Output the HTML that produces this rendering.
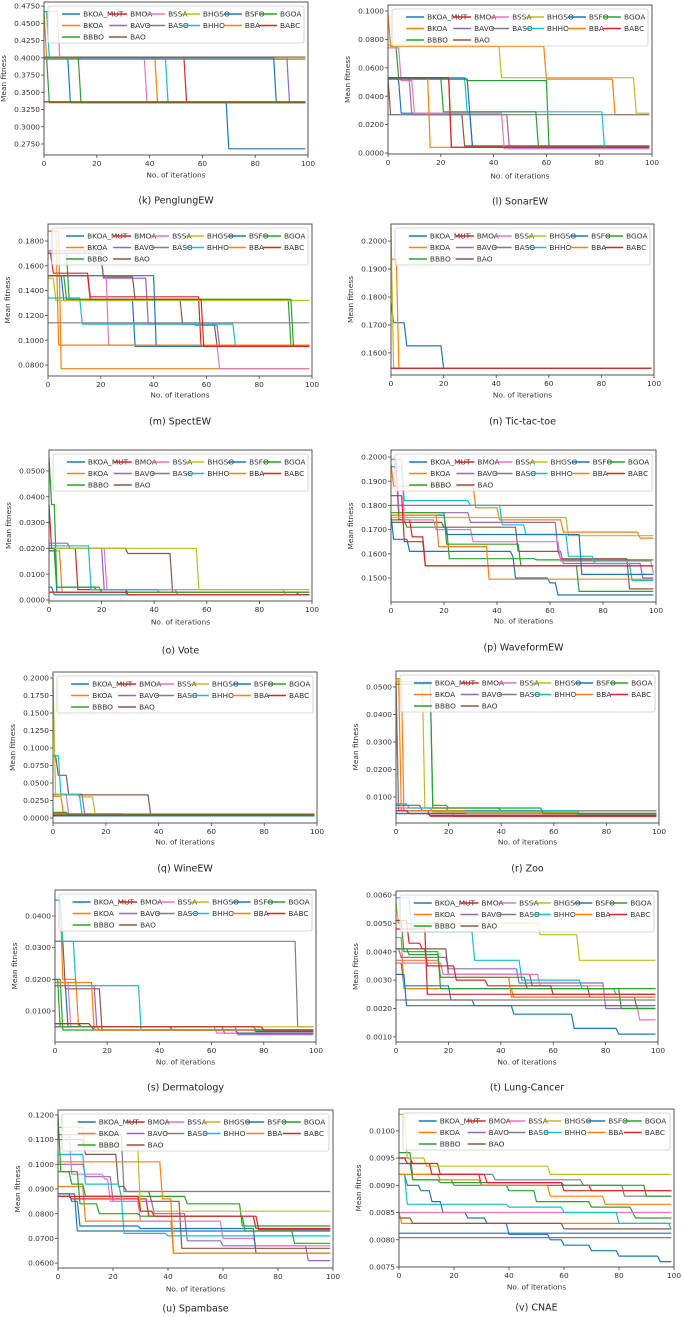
<!DOCTYPE html>
<html><head><meta charset="utf-8">
<style>
html,body{margin:0;padding:0;background:#fff;}
svg{display:block;font-family:"DejaVu Sans","Liberation Sans",sans-serif;}
</style></head>
<body>
<svg id="fig" width="685" height="1317" viewBox="0 0 685 1317" xmlns="http://www.w3.org/2000/svg"></svg>
<script>
// Series order: BKOA_MUT, BKOA, BBBO, BMOA, BAVO, BAO, BSSA, BASO, BHGSO, BHHO, BSFO, BBA, BGOA, BABC
const seriesNames = ["BKOA_MUT","BKOA","BBBO","BMOA","BAVO","BAO","BSSA","BASO","BHGSO","BHHO","BSFO","BBA","BGOA","BABC"];
const seriesColors = ["#1f77b4","#ff7f0e","#2ca02c","#d62728","#9467bd","#8c564b","#e377c2","#7f7f7f","#bcbd22","#17becf","#1f77b4","#ff7f0e","#2ca02c","#d62728"];
const xTicks = [0,20,40,60,80,100];

// step data: [iter, value, iter, value, ...]
const series_k = [[0,.400,10,.335,70,.268],[0,.467,1,.400,43,.335],[0,.400,2,.335],[0,.401,54,.335],[0,.400,93,.335],[0,.401],[0,.467,6,.400,39,.335],[0,.398],[0,.400],[0,.467,2,.400,47,.335],[0,.400,88,.335],[0,.336],[0,.400,14,.335],[0,.336]];
const series_l = [[0,.053,4,.051,5,.028,32,.004],[0,.098,1,.075,60,.052,86,.027],[0,.076,4,.053,30,.051,61,.004],[0,.053,24,.004],[0,.053,9,.027,46,.003],[0,.053,1,.027,29,.005],[0,.074,5,.051,10,.028,44,.003],[0,.027],[0,.076,43,.053,94,.028],[0,.053,30,.029,82,.004],[0,.052,31,.028,32,.004],[0,.053,16,.004],[0,.053,21,.029,57,.004],[0,.053,24,.004]];
const series_m = [[0,.152,6,.132,33,.095],[0,.188,5,.077],[0,.170,8,.133,92,.096],[0,.170,2,.154,16,.135,58,.095],[0,.172,21,.150,38,.113,56,.112,65,.095],[0,.170,21,.151,33,.133,51,.113,64,.096],[0,.152,23,.096,65,.077],[0,.114],[0,.150,3,.132],[0,.134,13,.113,71,.096],[0,.152,41,.095],[0,.188,4,.096],[0,.152,7,.133,93,.095],[0,.152,16,.133,59,.095]];
const series_n = [[0,.1780,1,.1708,6,.1625,20,.1545],[0,.1545],[0,.1545],[0,.1545],[0,.1545],[0,.1545],[0,.1545],[0,.1545],[0,.205,1,.1545],[0,.1545],[0,.1545],[0,.1935,3,.1545],[0,.1545],[0,.1545]];
const series_o = [[0,.005,2,.002],[0,.019,5,.003],[0,.055,1,.037,3,.005,18,.004,30,.003],[0,.037,1,.020,11,.004,30,.002],[0,.022,8,.020,21,.004,49,.002],[0,.020,30,.018,47,.003],[0,.020,22,.004,90,.002],[0,.003],[0,.020,57,.004],[0,.021,16,.004,42,.003],[0,.019,3,.003,95,.002],[0,.003],[0,.020,3,.005,20,.003],[0,.003,30,.002]];
const series_p = [[0,.176,1,.166,7,.161,46,.159,47,.150,60,.148,63,.143],[0,.197,1,.188,32,.179,41,.174,65,.169,94,.1665],[0,.174,6,.171,22,.158,55,.1575],[0,.196,3,.174,8,.167,13,.155],[0,.199,3,.177,30,.173,63,.161,65,.156,95,.150],[0,.173,20,.171,48,.161,64,.158,90,.1455],[0,.199,5,.174,17,.170,31,.165,64,.157,99,.152],[0,.180],[0,.175,67,.1675],[0,.196,5,.182,30,.180,42,.172,51,.168,67,.159,77,.156,91,.149],[0,.176,21,.168,72,.1515],[0,.176,18,.163,37,.1495],[0,.177,21,.164,49,.155,71,.1445],[0,.184,5,.165,13,.155]];
const series_q = [[0,.003],[0,.031,4,.005],[0,.007,6,.005],[0,.006,27,.004],[0,.034,12,.005],[0,.089,2,.061,6,.033,37,.005],[0,.033,6,.004],[0,.005],[0,.200,1,.034,10,.030,16,.005],[0,.089,3,.033,11,.005],[0,.004],[0,.006],[0,.008,6,.005],[0,.004]];
const series_r = [[0,.0040],[0,.053,3,.005,22,.003],[0,.052,14,.007,20,.006,40,.005,56,.004,70,.0035],[0,.005,13,.003],[0,.050,1,.005],[0,.007,10,.005,57,.004],[0,.006,14,.005,57,.004],[0,.052,1,.005],[0,.052,11,.006,14,.0045,70,.004],[0,.0075,5,.006,20,.005,70,.0035],[0,.004],[0,.053,2,.005,27,.004],[0,.051,14,.006,56,.004],[0,.005,5,.004,13,.0033]];
const series_s = [[0,.018,5,.005,65,.003],[0,.045,3,.020,9,.005,17,.004],[0,.020,3,.004,70,.003],[0,.006,10,.005,45,.004,77,.0035],[0,.018,16,.005,70,.0025],[0,.032,4,.017,18,.004],[0,.019,6,.005,62,.003],[0,.032,93,.005],[0,.005],[0,.045,3,.032,8,.018,33,.004],[0,.005,15,.004,70,.003],[0,.019,15,.004],[0,.020,2,.005,77,.004],[0,.006,14,.005,80,.004]];
const series_t = [[0,.0036,3,.0028,21,.0023,30,.0021,45,.0018,68,.0013,85,.0011],[0,.0045,3,.0027,45,.0024],[0,.0051,3,.0040,17,.0027],[0,.0048,12,.0025],[0,.0041,2,.0038,20,.0034,47,.0029,80,.0020],[0,.0041,20,.0032,52,.0028,74,.0024,92,.0020],[0,.0036,18,.0032,55,.0028,80,.0021,93,.0016],[0,.0023],[0,.0057,1,.0050,55,.0046,70,.0037],[0,.0059,6,.0047,30,.0037,48,.0030,71,.0027,84,.0025],[0,.0032,4,.0021],[0,.0037,17,.0031,44,.0024],[0,.0041,5,.0039,17,.0031,50,.0027,86,.0020],[0,.0051,5,.0043,10,.0041,12,.0035,23,.0030,35,.0028,60,.0025]];
const series_u = [[0,.088,7,.073],[0,.091,10,.077,42,.064],[0,.097,5,.092,10,.087,47,.084,67,.075],[0,.087,5,.086,33,.079,72,.074],[0,.100,10,.095,20,.085,35,.080,47,.069,60,.067,91,.061],[0,.110,10,.104,22,.091,25,.089,34,.085,45,.066],[0,.112,5,.096,17,.094,19,.085,30,.077,60,.070,72,.067],[0,.112,24,.089],[0,.115,10,.107,30,.081],[0,.104,10,.092,23,.087,24,.072,40,.071],[0,.088,5,.085,8,.075,30,.074,72,.064],[0,.101,38,.086,42,.064],[0,.120,1,.097,8,.084,15,.080,30,.079,68,.073,86,.068],[0,.087,30,.081,35,.079,73,.0735]];
const series_v = [[0,.0092,3,.0090,8,.0089,12,.0087,16,.0085,25,.0084,32,.0083,40,.0081,55,.0080,60,.0079,70,.0078,80,.0077,95,.0076],[0,.0085,1,.0083],[0,.0096,5,.0091,20,.0090,40,.0089,50,.0087,70,.0086,85,.0085,86,.0084],[0,.0095,5,.0094,15,.0092,30,.0090,70,.0089],[0,.00804],[0,.0084,5,.0083,60,.0082],[0,.0085],[0,.0095,5,.0092,35,.0091,67,.0090,82,.0088],[0,.0103,3,.0095,10,.00935,55,.0092],[0,.0092,3,.00865,40,.0086,60,.0085,80,.0083,99,.0082],[0,.00812],[0,.0092,15,.0091,30,.0090,55,.0088,75,.00865],[0,.0094,5,.0091,15,.00905,60,.0090,90,.0088],[0,.0095,3,.0094,12,.0092,32,.00905,60,.0089]];

const yTicks_k = [.275,.300,.325,.350,.375,.400,.425,.450,.475];
const yTicks_l = [0,.02,.04,.06,.08,.10];
const yTicks_m = [.08,.10,.12,.14,.16,.18];
const yTicks_n = [.16,.17,.18,.19,.20];
const yTicks_o = [0,.01,.02,.03,.04,.05];
const yTicks_p = [.15,.16,.17,.18,.19,.20];
const yTicks_q = [0,.025,.05,.075,.10,.125,.15,.175,.20];
const yTicks_r = [.01,.02,.03,.04,.05];
const yTicks_s = [.01,.02,.03,.04];
const yTicks_t = [.001,.002,.003,.004,.005,.006];
const yTicks_u = [.06,.07,.08,.09,.10,.11,.12];
const yTicks_v = [.0075,.0080,.0085,.0090,.0095,.0100];

const yRange_k=[.259,.481], yRange_l=[-.0007,.1042], yRange_m=[.0711,.1937], yRange_n=[.1521,.2061], yRange_o=[-.0004,.0581], yRange_p=[.1401,.2029], yRange_q=[-.0071,.2086], yRange_r=[.00055,.0558], yRange_s=[.0002,.0482], yRange_t=[.00082,.00614], yRange_u=[.058,.122], yRange_v=[.0075,.0104];

const panels = [
 {id:"k",cap:"(k) PenglungEW",s:series_k,t:yTicks_k,r:yRange_k,L:44,R:308,T:2,B:155,xl:175,cy:200},
 {id:"l",cap:"(l) SonarEW",s:series_l,t:yTicks_l,r:yRange_l,L:388,R:652,T:5,B:154,xl:176,cy:201},
 {id:"m",cap:"(m) SpectEW",s:series_m,t:yTicks_m,r:yRange_m,L:48,R:312,T:224,B:376,xl:395,cy:421},
 {id:"n",cap:"(n) Tic-tac-toe",s:series_n,t:yTicks_n,r:yRange_n,L:391,R:654,T:224,B:375,xl:395,cy:421},
 {id:"o",cap:"(o) Vote",s:series_o,t:yTicks_o,r:yRange_o,L:49,R:312,T:450,B:601,xl:622,cy:650},
 {id:"p",cap:"(p) WaveformEW",s:series_p,t:yTicks_p,r:yRange_p,L:391,R:656,T:450,B:602,xl:621,cy:647},
 {id:"q",cap:"(q) WineEW",s:series_q,t:yTicks_q,r:yRange_q,L:53,R:317,T:672,B:823,xl:842,cy:868},
 {id:"r",cap:"(r) Zoo",s:series_r,t:yTicks_r,r:yRange_r,L:396,R:659,T:671,B:823,xl:842,cy:868},
 {id:"s",cap:"(s) Dermatology",s:series_s,t:yTicks_s,r:yRange_s,L:55,R:316,T:890,B:1042,xl:1062,cy:1087},
 {id:"t",cap:"(t) Lung-Cancer",s:series_t,t:yTicks_t,r:yRange_t,L:396,R:658,T:891,B:1042,xl:1062,cy:1087},
 {id:"u",cap:"(u) Spambase",s:series_u,t:yTicks_u,r:yRange_u,L:58,R:333,T:1110,B:1268,xl:1289,cy:1308},
 {id:"v",cap:"(v) CNAE",s:series_v,t:yTicks_v,r:yRange_v,L:399,R:674,T:1109,B:1267,xl:1287,cy:1307}
];

const NS="http://www.w3.org/2000/svg";
const svg=document.getElementById("fig");
function mk(tag,attrs,parent){const e=document.createElementNS(NS,tag);for(const k in attrs)e.setAttribute(k,attrs[k]);(parent||svg).appendChild(e);return e;}
const legCols=[.148,.326,.470,.602,.761,.894];
const legPos=[[0,0],[0,1],[0,2],[1,0],[1,1],[1,2],[2,0],[2,1],[3,0],[3,1],[4,0],[4,1],[5,0],[5,1]];

panels.forEach(P=>{
  const g=mk("g",{});
  
  
  const W=P.R-P.L;
  const xs=v=>P.L+(v/100)*W;
  const ys=v=>P.B-(v-P.r[0])/(P.r[1]-P.r[0])*(P.B-P.T);
  // series
  const sg=mk("g",{},g);
  
  
  P.s.forEach((d,i)=>{
    let pts=[];let prev=null;
    for(let j=0;j<d.length;j+=2){
      const x=d[j],y=d[j+1];
      if(prev!==null && x>0){pts.push([xs(x-1),ys(prev)]);}
      pts.push([xs(x),ys(y)]);prev=y;
    }
    pts.push([xs(99),ys(prev)]);
    const pl=mk("polyline",{points:pts.map(p=>p[0].toFixed(1)+","+p[1].toFixed(1)).join(" "),fill:"none",stroke:seriesColors[i],"stroke-width":"1.2","stroke-linejoin":"round"},sg);
    
    
  });
  // frame
  const fr=mk("rect",{x:P.L,y:P.T,width:W,height:P.B-P.T,fill:"none",stroke:"#444","stroke-width":"0.9"},g);
  
  
  // y ticks
  P.t.forEach(v=>{
    const y=ys(v);
    mk("line",{x1:P.L-3,x2:P.L,y1:y,y2:y,stroke:"#444","stroke-width":"0.8"},g);
    const tx=mk("text",{x:P.L-4,y:y+2.6,"font-size":"7.4","text-anchor":"end",fill:"#333"},g);
    tx.textContent=v.toFixed(4);
    
    
  });
  xTicks.forEach(v=>{
    const x=xs(v);
    mk("line",{x1:x,x2:x,y1:P.B,y2:P.B+3,stroke:"#444","stroke-width":"0.8"},g);
    const tx=mk("text",{x:x,y:P.B+11,"font-size":"7.4","text-anchor":"middle",fill:"#333"},g);
    tx.textContent=String(v);
    
    
  });
  const xl=mk("text",{x:P.L+W/2,y:P.xl+2.5,"font-size":"7.4","text-anchor":"middle",fill:"#333"},g);
  xl.textContent="No. of iterations";
  
  
  const ym=(P.T+P.B)/2, yx=P.L-38;
  const yl=mk("text",{x:yx,y:ym,"font-size":"7.4","text-anchor":"middle",fill:"#333",transform:"rotate(-90 "+yx+" "+ym+")"},g);
  yl.textContent="Mean fitness";
  
  
  const cp=mk("text",{x:P.L+W/2,y:P.cy+3.5,"font-size":"9.5","text-anchor":"middle",fill:"#222"},g);
  cp.textContent=P.cap;
  
  
  // legend
  const lg=mk("g",{},g);
  
  
  const lb=mk("rect",{x:P.L+4,y:P.T+4,width:W-8,height:37,rx:2,fill:"#fff","fill-opacity":"0.8",stroke:"#ccc","stroke-width":"0.8"},lg);
  
  
  seriesNames.forEach((n,i)=>{
    const c=legPos[i][0],r=legPos[i][1];
    const tx0=P.L+legCols[c]*W, y=P.T+12+r*11.5;
    mk("line",{x1:tx0-21,x2:tx0-3,y1:y,y2:y,stroke:seriesColors[i],"stroke-width":"1.5"},lg);
    const t=mk("text",{x:tx0,y:y+2.6,"font-size":"7.4",fill:"#333"},lg);
    t.textContent=n;
    
    
  });
});
</script>
</body></html>
